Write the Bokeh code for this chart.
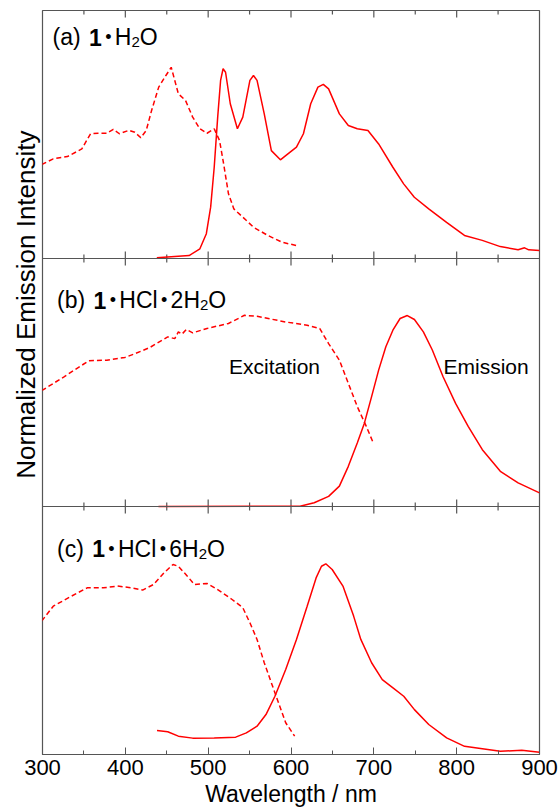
import math
from bokeh.plotting import figure
from bokeh.models import Range1d, Label, Span, SingleIntervalTicker, Title
from bokeh.embed import file_html
from bokeh.resources import INLINE

# ---------------- data ----------------
x_ticks = [300, 400, 500, 600, 700, 800, 900]
x_minor_ticks = [350, 450, 550, 650, 750, 850]

# (a) 1·H2O
a_exc_nm = [299, 313, 330, 347.5, 358, 367, 377.7, 385.5, 392.8, 404.5, 411.4, 418.7, 425.2, 431.7,
            440.3, 449, 455.4, 459.7, 464, 472.7, 481.3, 490, 498.6, 507.3, 513.7, 518, 524.5, 531,
            541.8, 554.8, 572, 589, 606.6]
a_exc_int = [0.379, 0.402, 0.411, 0.442, 0.503, 0.505, 0.505, 0.521, 0.503, 0.517, 0.509, 0.487, 0.516,
             0.597, 0.691, 0.738, 0.771, 0.718, 0.664, 0.637, 0.570, 0.523, 0.505, 0.523, 0.476, 0.395,
             0.261, 0.200, 0.167, 0.126, 0.093, 0.066, 0.052]
a_em_nm = [438, 477, 490, 497.8, 503, 507.3, 511.5, 515, 518, 521, 526.7, 535.3, 541.8, 550.4, 554.7,
           559, 567.7, 576.3, 587.2, 593.6, 606.6, 615, 623.8, 632.5, 639, 645.4, 658.4, 669.2, 680,
           692.9, 705.8, 723, 736, 748.9, 766.3, 787.8, 809.4, 830.9, 852.7, 874.2, 882, 887, 900]
a_em_int = [0.003, 0.012, 0.039, 0.100, 0.207, 0.368, 0.570, 0.718, 0.765, 0.751, 0.624, 0.523, 0.570,
            0.718, 0.738, 0.718, 0.583, 0.435, 0.398, 0.415, 0.449, 0.503, 0.624, 0.691, 0.702, 0.684,
            0.583, 0.536, 0.523, 0.516, 0.462, 0.368, 0.301, 0.247, 0.200, 0.146, 0.093, 0.073, 0.048,
            0.035, 0.043, 0.035, 0.032]

# (b) 1·HCl·2H2O
b_exc_nm = [299, 326, 356, 377.7, 399.4, 412.3, 429.5, 451.2, 459.7, 464, 468.4, 473.6, 481.3, 498.6,
            524.5, 543.9, 559, 593.6, 619.5, 634.6, 645.4, 658.4, 669.2, 680, 690.9, 699.4]
b_exc_int = [0.467, 0.523, 0.588, 0.590, 0.601, 0.617, 0.641, 0.684, 0.677, 0.704, 0.695, 0.714, 0.700,
             0.718, 0.738, 0.771, 0.767, 0.744, 0.731, 0.718, 0.657, 0.590, 0.497, 0.403, 0.323, 0.256]
b_em_nm = [440, 610.9, 628, 645.4, 658.4, 669.2, 680, 688.6, 697.3, 705.8, 714.5, 723, 731.7, 740.4,
           749, 759.8, 770.6, 783.6, 798.7, 813.9, 831, 852.7, 874.2, 900]
b_em_int = [0.0, 0.001, 0.015, 0.041, 0.082, 0.162, 0.256, 0.336, 0.443, 0.550, 0.644, 0.711, 0.758,
            0.770, 0.754, 0.704, 0.631, 0.523, 0.416, 0.323, 0.229, 0.142, 0.095, 0.055]

# (c) 1·HCl·6H2O
c_exc_nm = [299, 313, 334.6, 354, 373.4, 390.7, 407.9, 420.9, 433.8, 446.8, 457.6, 464, 474.9, 483.5,
            498.6, 511.5, 528.9, 541.8, 550.4, 559, 567.7, 576.3, 585, 593.6, 604.4]
c_exc_int = [0.538, 0.598, 0.638, 0.672, 0.672, 0.679, 0.672, 0.663, 0.685, 0.733, 0.766, 0.759, 0.719,
             0.685, 0.690, 0.665, 0.625, 0.592, 0.531, 0.464, 0.370, 0.289, 0.208, 0.128, 0.074]
c_em_nm = [438.2, 451.2, 464, 481.3, 507.3, 533.2, 546.1, 559, 569.8, 580.6, 593.6, 606.6, 619.5, 630.3,
           636.8, 642, 649.7, 662.7, 675.6, 684.3, 697.3, 710.2, 723.1, 736.1, 749, 766.3, 787.9, 809.5,
           831, 852.7, 878.6, 900]
c_em_int = [0.097, 0.092, 0.074, 0.066, 0.067, 0.070, 0.087, 0.114, 0.161, 0.235, 0.343, 0.464, 0.598,
            0.712, 0.759, 0.769, 0.746, 0.679, 0.558, 0.464, 0.370, 0.302, 0.269, 0.235, 0.181, 0.121,
            0.067, 0.033, 0.023, 0.013, 0.017, 0.009]

panel_prefixes = ["(a) ", "(b) ", "(c) "]
panel_compounds = [["H\u2082O"], ["HCl", "2H\u2082O"], ["HCl", "6H\u2082O"]]
x_label = "Wavelength / nm"
y_label = "Normalized Emission Intensity"
exc_label = "Excitation"
em_label = "Emission"

# ---------------- layout constants ----------------
W, H = 560, 809
FL, FR, FT, FB = 42, 539, 10, 755
px_per_nm = (FR - FL) / 600.0
px_per_unit = (FB - FT) / 3.0
RED = "#ff0000"
FRAME = "#555555"
FONT = "Liberation Sans"


def nm_at(px):
    return 300 + (px - FL) / px_per_nm


def y_at(py):
    return 3 - (py - FT) / px_per_unit


p = figure(width=W, height=H, output_backend="svg", toolbar_location=None,
           x_range=Range1d(300, 900), y_range=Range1d(0, 3),
           min_border_left=FL, min_border_right=W - FR, min_border_top=FT, min_border_bottom=H - FB)
p.yaxis.visible = False
p.xgrid.visible = False
p.ygrid.visible = False
p.outline_line_color = FRAME
p.outline_line_width = 1.2
p.background_fill_color = "white"
p.border_fill_color = "white"

xa = p.xaxis[0]
xa.ticker = SingleIntervalTicker(interval=100, num_minor_ticks=2)
xa.major_tick_in = 7
xa.major_tick_out = 0
xa.minor_tick_in = 4
xa.minor_tick_out = 0
xa.axis_line_color = FRAME
xa.axis_line_width = 1.2
xa.major_tick_line_color = FRAME
xa.minor_tick_line_color = FRAME
xa.major_label_text_font = FONT
xa.major_label_text_font_size = "22px"
xa.major_label_text_color = "black"
xa.major_label_standoff = 5
xa.axis_label = x_label
xa.axis_label_text_font = FONT
xa.axis_label_text_font_size = "23px"
xa.axis_label_text_font_style = "normal"
xa.axis_label_text_color = "black"
xa.axis_label_standoff = 3

# y axis label as a left title, anchored near the top like the reference
ytitle = Title(text=y_label, text_font=FONT, text_font_size="26px", text_font_style="normal",
               text_color="black", align="right", offset=120, standoff=3)
p.add_layout(ytitle, "left")

# inward ticks at the top edge and on both sides of each panel separator
for loc in (1, 2):
    p.add_layout(Span(location=loc, dimension="width", line_color=FRAME, line_width=1.2))
for loc in (1, 2, 3):
    p.scatter(x_ticks[1:-1], [loc] * (len(x_ticks) - 2), marker="dash", angle=math.pi / 2,
              size=14, line_color=FRAME, line_width=1.2)
    p.scatter(x_minor_ticks, [loc] * len(x_minor_ticks), marker="dash", angle=math.pi / 2,
              size=8, line_color=FRAME, line_width=1.2)

panels = [
    (2, a_exc_nm, a_exc_int, a_em_nm, a_em_int),
    (1, b_exc_nm, b_exc_int, b_em_nm, b_em_int),
    (0, c_exc_nm, c_exc_int, c_em_nm, c_em_int),
]
for off, exn, exi, emn, emi in panels:
    p.line(exn, [v + off for v in exi], line_color=RED, line_width=1.5, line_dash="5 3")
    p.line(emn, [v + off for v in emi], line_color=RED, line_width=1.5)

# ---------------- panel labels ----------------
EM = {'(': 0.333, ')': 0.333, 'a': 0.556, 'b': 0.556, 'c': 0.5, ' ': 0.278, '1': 0.556,
      'H': 0.722, 'C': 0.722, 'l': 0.222, '2': 0.556, '6': 0.556, 'O': 0.778}
FS = 23
SUB = 15


def text_w(s, size):
    return sum(EM.get(ch, 0.556) for ch in s) * size


def add_piece(txt, px, baseline_py, size, bold=False):
    p.add_layout(Label(x=nm_at(px), y=y_at(baseline_py), text=txt, text_font=FONT,
                       text_font_size=f"{size}px", text_font_style="bold" if bold else "normal",
                       text_color="black", text_baseline="alphabetic", text_align="left"))


def add_formula(s, px, baseline_py):
    out = ""
    for ch in s:
        if ch == "\u2082":
            if out:
                add_piece(out, px, baseline_py, FS)
                px += text_w(out, FS)
                out = ""
            add_piece("2", px, baseline_py + 5, SUB)
            px += 0.556 * SUB
        else:
            out += ch
    if out:
        add_piece(out, px, baseline_py, FS)
        px += text_w(out, FS)
    return px


label_starts = [(52, 37), (56.5, 300), (56.5, 549)]
for (sx, by), prefix, parts in zip(label_starts, panel_prefixes, panel_compounds):
    add_piece(prefix, sx, by, FS)
    px = sx + text_w(prefix, FS) + 2
    add_piece("1", px, by, FS, bold=True)
    px += 0.556 * FS
    for part in parts:
        p.add_layout(Label(x=nm_at(px + 6.5), y=y_at(by), text="\u2022", text_font=FONT,
                           text_font_size="18px", text_color="black",
                           text_baseline="alphabetic", text_align="center"))
        px += 13
        px = add_formula(part, px, by)

# Excitation / Emission labels
p.add_layout(Label(x=nm_at(228.5), y=y_at(366), text=exc_label, text_font=FONT, text_font_size="21px",
                   text_color="black", text_baseline="alphabetic"))
p.add_layout(Label(x=nm_at(443), y=y_at(366), text=em_label, text_font=FONT, text_font_size="21px",
                   text_color="black", text_baseline="alphabetic"))

open("out.html", "w").write(file_html(p, INLINE))
